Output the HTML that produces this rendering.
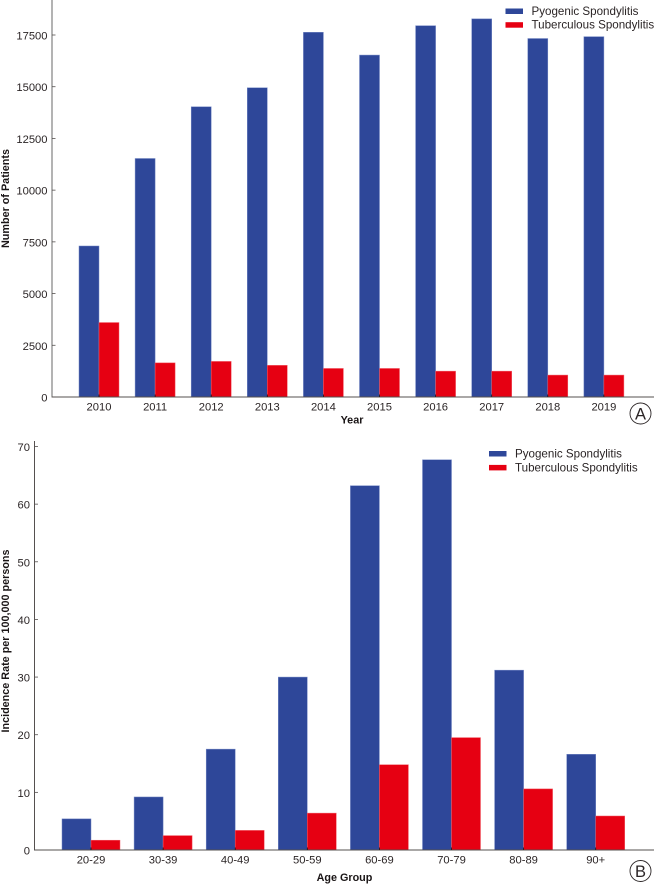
<!DOCTYPE html>
<html lang="en">
<head>
<meta charset="utf-8">
<title>Spondylitis charts</title>
<style>
html,body{margin:0;padding:0;background:#fff;width:654px;height:884px;overflow:hidden}
svg{display:block;font-family:"Liberation Sans",sans-serif}
text{fill:#2b2526}
.tick{font-size:11.2px}
.leg{font-size:11.6px}
.title{font-size:10.8px;font-weight:bold;fill:#1a1516}
.panel{font-size:16.5px}
</style>
</head>
<body>
<svg id="figure" width="654" height="884" viewBox="0 0 654 884" xmlns="http://www.w3.org/2000/svg">
  <g id="panel-a"></g>
  <g id="panel-b"></g>
  <text class="title" transform="translate(9,198.5) rotate(-90)" text-anchor="middle">Number of Patients</text>
  <text class="title" x="352" y="423.5" text-anchor="middle">Year</text>
  <text class="title" transform="translate(9,641) rotate(-90)" text-anchor="middle">Incidence Rate per 100,000 persons</text>
  <text class="title" x="344.5" y="881" text-anchor="middle">Age Group</text>
  <circle cx="640.5" cy="413.5" r="10.5" fill="none" stroke="#2b2526" stroke-width="0.9"/>
  <text class="panel" x="640.5" y="419.5" text-anchor="middle">A</text>
  <circle cx="640.5" cy="871" r="10.5" fill="none" stroke="#2b2526" stroke-width="0.9"/>
  <text class="panel" x="640.5" y="877" text-anchor="middle">B</text>
</svg>
<script>
var seriesNames = ['Pyogenic Spondylitis', 'Tuberculous Spondylitis'];
var yearCategories = ['2010', '2011', '2012', '2013', '2014', '2015', '2016', '2017', '2018', '2019'];
var yearPyogenic = [7300, 11530, 14030, 14950, 17630, 16530, 17950, 18280, 17330, 17420];
var yearTuberculous = [3600, 1650, 1720, 1530, 1380, 1380, 1250, 1250, 1060, 1060];
var yearTicks = [0, 2500, 5000, 7500, 10000, 12500, 15000, 17500];
var ageCategories = ['20-29', '30-39', '40-49', '50-59', '60-69', '70-79', '80-89', '90+'];
var agePyogenic = [5.4, 9.2, 17.5, 30, 63.2, 67.7, 31.2, 16.6];
var ageTuberculous = [1.7, 2.5, 3.4, 6.4, 14.8, 19.5, 10.6, 5.9];
var ageTicks = [0, 10, 20, 30, 40, 50, 60, 70];

var NS = 'http://www.w3.org/2000/svg';
var BLUE = '#2e4799';
var RED = '#e60012';

function make(parent, tag, attrs, text) {
  var el = document.createElementNS(NS, tag);
  for (var k in attrs) el.setAttribute(k, attrs[k]);
  if (text !== undefined) el.textContent = text;
  parent.appendChild(el);
  return el;
}

function drawPanel(parent, cfg) {
  function yScale(v) { return cfg.baseY - v * cfg.pxPerUnit; }
  function xCenter(i) { return cfg.firstCenter + i * cfg.step; }

  cfg.series.forEach(function (values, s) {
    values.forEach(function (v, i) {
      var x = s === 0 ? xCenter(i) - cfg.barW : xCenter(i);
      var bar = make(parent, 'rect', {
        x: x, y: yScale(v), width: cfg.barW, height: cfg.baseY - yScale(v),
        fill: s === 0 ? BLUE : RED,
        stroke: s === 0 ? '#7488c4' : '#f2606a',
        'stroke-width': 0.5
      });
      
      
    });
  });

  var yAxis = make(parent, 'line', {
    x1: cfg.axisX, x2: cfg.axisX, y1: cfg.axisTop, y2: cfg.baseY + 0.5,
    stroke: cfg.yAxisColor, 'stroke-width': cfg.yAxisWidth
  });
  
  

  var xAxis = make(parent, 'line', {
    x1: cfg.axisX, x2: cfg.axisEnd, y1: cfg.baseY, y2: cfg.baseY,
    stroke: '#55504f', 'stroke-width': 1
  });
  
  

  cfg.ticks.forEach(function (t) {
    var y = yScale(t);
    var tick = make(parent, 'line', {
      x1: cfg.axisX, x2: cfg.axisX + 3.5, y1: y, y2: y,
      stroke: '#55504f', 'stroke-width': 0.8
    });
    
    
    var label = make(parent, 'text', {
      'class': 'tick', x: cfg.axisX - 4.5, y: y + 4.5, 'text-anchor': 'end'
    }, String(t));
    
    
  });

  cfg.categories.forEach(function (c, i) {
    var x = xCenter(i);
    var tick = make(parent, 'line', {
      x1: x, x2: x, y1: cfg.baseY, y2: cfg.baseY - 2.5,
      stroke: '#1a1516', 'stroke-width': 0.8
    });
    
    
    var label = make(parent, 'text', {
      'class': 'tick', x: x, y: cfg.baseY + 13.5, 'text-anchor': 'middle'
    }, c);
    
    
  });

  seriesNames.forEach(function (name, s) {
    var y = cfg.legendY + s * cfg.legendGap;
    var swatch = make(parent, 'rect', {
      x: cfg.legendX, y: y, width: 17.5, height: 5.5, fill: s === 0 ? BLUE : RED
    });
    
    
    var label = make(parent, 'text', {
      'class': 'leg', x: cfg.legendX + 26, y: y + 6.5
    }, name);
    
    
  });
}

drawPanel(document.getElementById('panel-a'), {
  categories: yearCategories,
  series: [yearPyogenic, yearTuberculous],
  ticks: yearTicks,
  baseY: 397,
  pxPerUnit: 362 / 17500,
  firstCenter: 99,
  step: 56.1,
  barW: 20,
  axisX: 52,
  axisEnd: 654,
  axisTop: 0,
  yAxisColor: '#9a9a9a',
  yAxisWidth: 1.5,
  legendX: 505.5,
  legendY: 8.5,
  legendGap: 13.7
});

drawPanel(document.getElementById('panel-b'), {
  categories: ageCategories,
  series: [agePyogenic, ageTuberculous],
  ticks: ageTicks,
  baseY: 850,
  pxPerUnit: 403.5 / 70,
  firstCenter: 91,
  step: 72.1,
  barW: 29,
  axisX: 34.5,
  axisEnd: 654,
  axisTop: 441,
  yAxisColor: '#55504f',
  yAxisWidth: 1,
  legendX: 489,
  legendY: 451,
  legendGap: 13.9
});
</script>
</body>
</html>
